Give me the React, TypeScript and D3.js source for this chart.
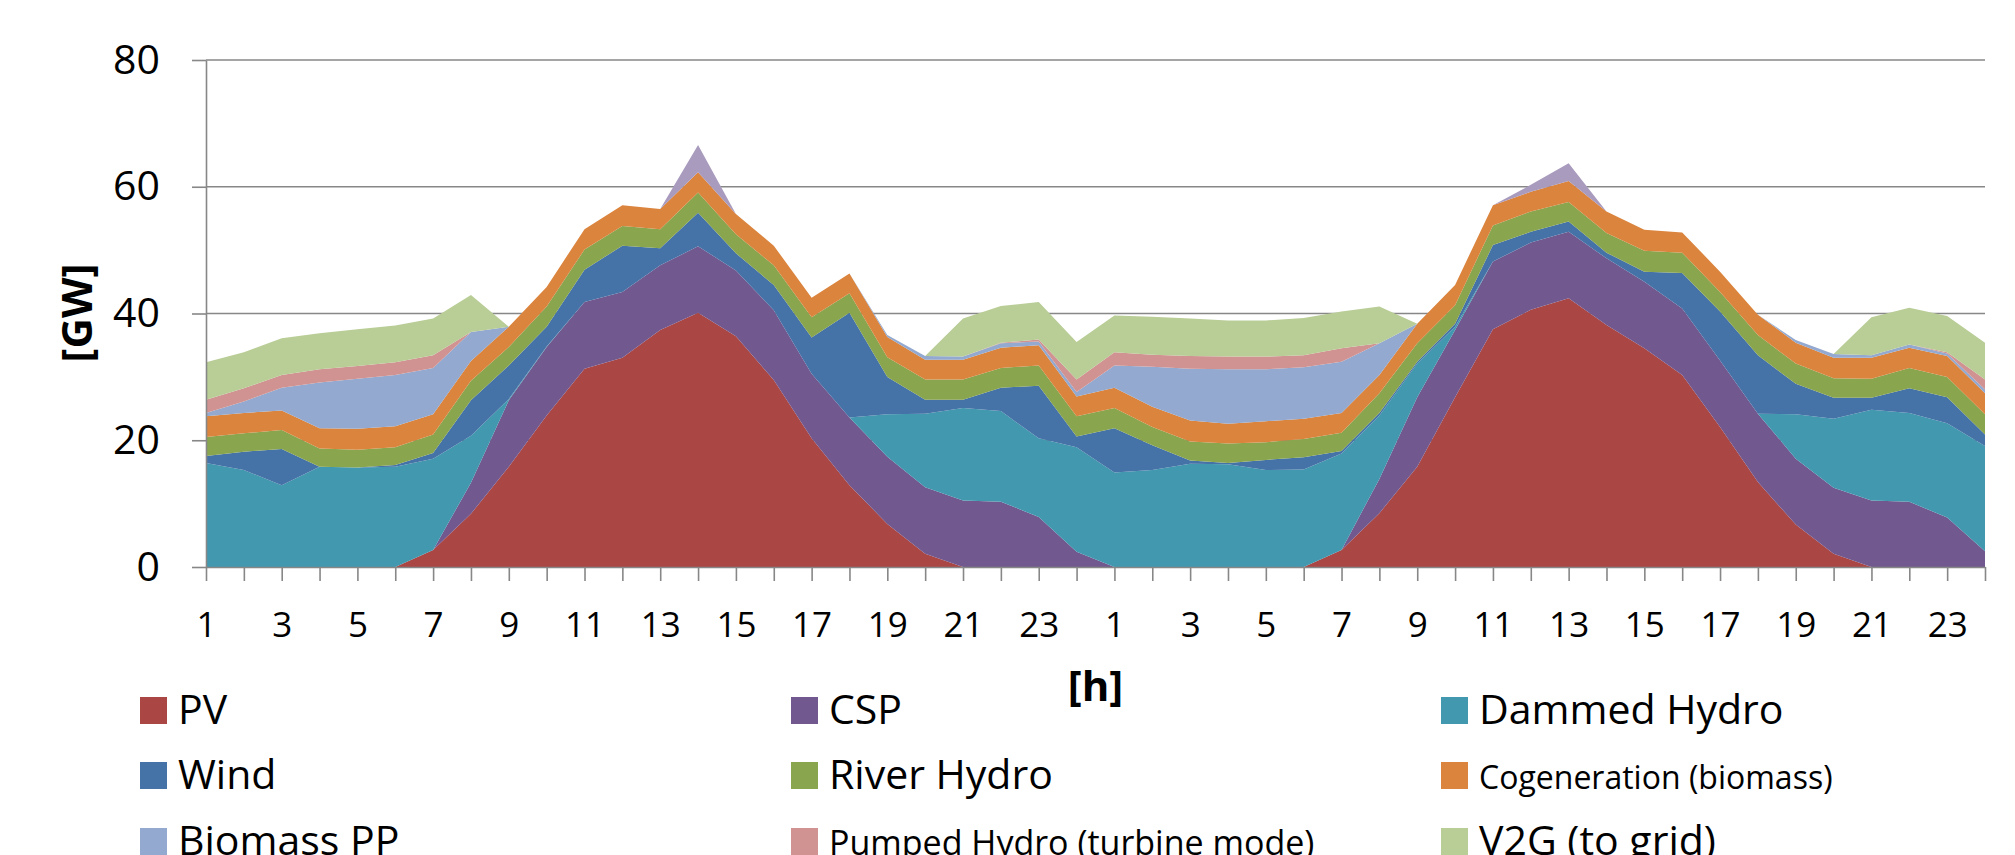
import React, { useRef, useEffect } from 'react';
import * as d3 from 'd3';

// two days, hourly
const hours = [
  1, 2, 3, 4, 5, 6, 7, 8, 9, 10, 11, 12, 13, 14, 15, 16, 17, 18, 19, 20, 21, 22, 23, 24,
  1, 2, 3, 4, 5, 6, 7, 8, 9, 10, 11, 12, 13, 14, 15, 16, 17, 18, 19, 20, 21, 22, 23, 24
];

const pv = [
  0, 0, 0, 0, 0, 0, 2.7, 8.4, 15.8, 23.9, 31.3, 33.0, 37.4, 40.1, 36.4, 29.5, 20.3, 12.9, 6.8, 2.1, 0, 0, 0, 0,
  0, 0, 0, 0, 0, 0, 2.7, 8.5, 15.8, 26.8, 37.5, 40.6, 42.4, 38.2, 34.5, 30.3, 22.1, 13.4, 6.7, 2.1, 0, 0, 0, 0
];
const csp = [
  0, 0, 0, 0, 0, 0, 0, 4.9, 10.5, 10.8, 10.5, 10.4, 10.2, 10.5, 10.4, 11.0, 10.2, 10.7, 10.6, 10.5, 10.5, 10.3, 7.9, 2.4,
  0, 0, 0, 0, 0, 0, 0, 5.4, 11.0, 10.6, 10.7, 10.6, 10.5, 10.5, 10.5, 10.5, 10.5, 10.8, 10.4, 10.4, 10.5, 10.3, 7.8, 2.5
];
const dammedHydro = [
  16.4, 15.3, 12.9, 15.8, 15.7, 15.8, 14.4, 7.4, 0.2, 0.1, 0, 0, 0, 0, 0, 0, 0, 0, 6.7, 11.6, 14.6, 14.3, 12.4, 16.5,
  14.9, 15.3, 16.3, 16.2, 15.3, 15.4, 15.2, 10.0, 5.3, 0.5, 0, 0, 0, 0, 0, 0, 0, 0, 7.0, 10.9, 14.3, 14.0, 14.9, 16.6
];
const wind = [
  1.1, 2.9, 5.7, 0, 0, 0.3, 0.9, 5.6, 5.3, 3.1, 5.1, 7.3, 2.7, 5.3, 2.7, 4.0, 5.7, 16.5, 5.9, 2.2, 1.3, 3.7, 8.3, 1.7,
  7.0, 3.9, 0.5, 0.2, 1.6, 1.9, 0.4, 0.4, 0.3, 0.5, 2.6, 1.7, 1.6, 0.9, 1.6, 5.6, 7.7, 9.2, 4.8, 3.3, 1.9, 3.9, 4.1, 1.8
];
const riverHydro = [
  3.0, 2.9, 3.0, 2.9, 2.8, 2.8, 2.9, 3.1, 2.9, 3.2, 3.2, 3.1, 3.0, 3.2, 3.0, 3.1, 3.2, 3.1, 3.1, 3.2, 3.2, 3.1, 3.2, 3.2,
  3.2, 2.9, 3.0, 3.1, 2.8, 2.9, 2.9, 3.1, 2.9, 2.9, 3.1, 3.2, 3.1, 3.1, 3.3, 3.2, 3.1, 3.2, 3.2, 3.1, 3.0, 3.2, 3.2, 3.2
];
const cogeneration = [
  3.3, 3.2, 3.1, 3.2, 3.3, 3.3, 3.2, 3.1, 3.2, 3.1, 3.2, 3.3, 3.2, 3.2, 3.2, 3.1, 3.1, 3.1, 3.2, 3.1, 3.1, 3.2, 3.2, 3.1,
  3.2, 3.2, 3.3, 3.1, 3.3, 3.2, 3.1, 2.9, 3.1, 3.2, 3.2, 3.1, 3.3, 3.4, 3.3, 3.2, 3.2, 3.2, 3.3, 3.2, 3.3, 3.2, 3.3, 3.3
];
const biomassPP = [
  0.5, 1.8, 3.6, 7.2, 7.9, 8.1, 7.3, 4.6, 0, 0, 0, 0, 0, 0, 0, 0, 0, 0, 0.3, 0.6, 0.5, 0.7, 0.6, 0.7,
  3.5, 6.3, 8.2, 8.6, 8.2, 8.1, 8.1, 5.0, 0, 0, 0, 0, 0, 0, 0, 0, 0, 0, 0.4, 0.6, 0.4, 0.5, 0.4, 0.6
];
const pumpedHydro = [
  2.1, 2.1, 2.0, 2.1, 2.0, 2.0, 2.0, 0, 0, 0, 0, 0, 0, 0, 0, 0, 0, 0, 0, 0, 0, 0.1, 0.3, 2.0,
  2.1, 1.9, 2.0, 2.0, 2.0, 1.9, 2.1, 0, 0, 0, 0, 0, 0, 0, 0, 0, 0, 0, 0, 0, 0, 0, 0.2, 1.6
];
const v2g = [
  5.9, 5.7, 5.8, 5.7, 5.8, 5.8, 5.8, 5.8, 0, 0, 0, 0, 0, 0, 0, 0, 0, 0, 0, 0, 6.0, 5.8, 5.9, 5.9,
  5.8, 6.0, 5.9, 5.7, 5.7, 5.9, 5.8, 5.8, 0, 0, 0, 0, 0, 0, 0, 0, 0, 0, 0, 0, 6.0, 5.8, 5.7, 5.8
];
// top layer (its legend entry sits below the visible area)
const other = [
  0, 0, 0, 0, 0, 0, 0, 0, 0, 0, 0, 0, 0, 4.3, 0, 0, 0, 0, 0, 0, 0, 0, 0, 0,
  0, 0, 0, 0, 0, 0, 0, 0, 0, 0, 0, 1.1, 2.8, 0, 0, 0, 0, 0, 0, 0, 0, 0, 0, 0
];

const seriesNames = [
  'PV', 'CSP', 'Dammed Hydro', 'Wind', 'River Hydro', 'Cogeneration (biomass)',
  'Biomass PP', 'Pumped Hydro (turbine mode)', 'V2G (to grid)', 'Other'
];
const seriesValues = [pv, csp, dammedHydro, wind, riverHydro, cogeneration, biomassPP, pumpedHydro, v2g, other];
const colors = [
  '#AA4644', '#71588F', '#4198AF', '#4572A7', '#89A54E', '#DB843D',
  '#93A9CF', '#D19392', '#B9CD96', '#A99BBD'
];
const yTicks = [0, 20, 40, 60, 80];

const App: React.FC = () => {
  const svgRef = useRef<SVGSVGElement>(null);
  const width = 2015;
  const height = 855;

  useEffect(() => {
    if (!svgRef.current) return;
    const svg = d3.select(svgRef.current);
    svg.selectAll('*').remove();

    const left = 206, right = 1985, top = 60, bottom = 567;
    const font = '"Open Sans", sans-serif';
    const axisColor = '#878787';

    const rows = hours.map((h, i) => {
      const row: Record<string, number> = { idx: i };
      seriesNames.forEach((k, s) => { row[k] = seriesValues[s][i]; });
      return row;
    });

    const x = d3.scalePoint<number>()
      .domain(d3.range(hours.length))
      .range([left, right]);

    const y = d3.scaleLinear()
      .domain([0, 80])
      .range([bottom, top]);

    // Grid lines (behind areas)
    svg.append('g')
      .selectAll('line')
      .data(yTicks.filter(t => t > 0))
      .join('line')
      .attr('x1', left)
      .attr('x2', right)
      .attr('y1', d => y(d))
      .attr('y2', d => y(d))
      .style('stroke', axisColor)
      .style('stroke-width', 1.6);

    // Stacked areas
    const stacked = d3.stack<Record<string, number>>().keys(seriesNames)(rows);
    const area = d3.area<d3.SeriesPoint<Record<string, number>>>()
      .x(d => x(d.data.idx)!)
      .y0(d => y(d[0]))
      .y1(d => y(d[1]))
      .curve(d3.curveLinear);

    svg.append('g')
      .selectAll('path')
      .data(stacked)
      .join('path')
      .attr('d', area)
      .style('fill', (d, i) => colors[i])
      .style('stroke', 'none');

    // Y-axis
    const yAxis = svg.append('g')
      .attr('transform', `translate(${left},0)`)
      .call(d3.axisLeft(y).tickValues(yTicks).tickSize(14).tickSizeOuter(0).tickPadding(32));
    yAxis.select('.domain').style('stroke', axisColor).style('stroke-width', 1.6);
    yAxis.selectAll('line').style('stroke', axisColor).style('stroke-width', 1.6);
    yAxis.selectAll('text')
      .style('font-family', font)
      .style('font-size', '41px')
      .style('fill', '#000');

    // X-axis
    const xAxis = svg.append('g')
      .attr('transform', `translate(0,${bottom})`)
      .call(d3.axisBottom(x)
        .tickSize(14)
        .tickSizeOuter(0)
        .tickPadding(31)
        .tickFormat(d => (d % 2 === 0 ? String(hours[d]) : '')));
    xAxis.select('.domain').style('stroke', axisColor).style('stroke-width', 1.6);
    xAxis.selectAll('line').style('stroke', axisColor).style('stroke-width', 1.6);
    xAxis.selectAll('text')
      .style('font-family', font)
      .style('font-size', '35px')
      .style('fill', '#000');

    // Axis titles
    svg.append('text')
      .attr('transform', 'translate(92,313) rotate(-90)')
      .attr('text-anchor', 'middle')
      .style('font-family', font)
      .style('font-size', '42px')
      .style('font-weight', 'bold')
      .text('[GW]');

    svg.append('text')
      .attr('x', (left + right) / 2)
      .attr('y', 701)
      .attr('text-anchor', 'middle')
      .style('font-family', font)
      .style('font-size', '42px')
      .style('font-weight', 'bold')
      .text('[h]');

    // Legend (3 columns, row-major)
    const colX = [140, 791, 1441];
    const rowY = [724, 789, 855];
    const legendSize = [41, 41, 41, 41, 41, 32, 41, 34, 41];
    seriesNames.slice(0, 9).forEach((name, i) => {
      const lx = colX[i % 3];
      const ly = rowY[Math.floor(i / 3)];
      const item = svg.append('g');
      item.append('rect')
        .attr('x', lx)
        .attr('y', ly - 27)
        .attr('width', 27)
        .attr('height', 27)
        .style('fill', colors[i]);
      item.append('text')
        .attr('x', lx + 38)
        .attr('y', ly)
        .style('font-family', font)
        .style('font-size', `${legendSize[i]}px`)
        .style('fill', '#000')
        .text(name);
    });
  }, []);

  return (
    <div style={{ position: 'absolute', left: 0, top: 0, width, height, overflow: 'hidden', background: '#fff' }}>
      <svg ref={svgRef} width={width} height={height} style={{ display: 'block', background: '#fff' }} />
    </div>
  );
};

export default App;
